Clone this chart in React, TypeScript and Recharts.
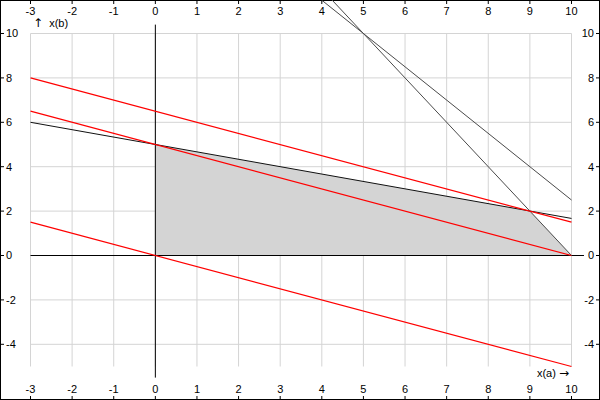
import { ComposedChart, Line, Area, XAxis, YAxis, ReferenceLine } from "recharts";

// tick labels / grid positions
const xTicks = [-3, -2, -1, 0, 1, 2, 3, 4, 5, 6, 7, 8, 9, 10];
const yTicks = [10, 8, 6, 4, 2, 0, -2, -4];
const gridBottom = -5;

// constraint lines
const redUpper = [{ x: -3, y: 8 }, { x: 10, y: 1.5 }];
const redMiddle = [{ x: -3, y: 6.5 }, { x: 10, y: 0 }];
const redLower = [{ x: -3, y: 1.5 }, { x: 10, y: -5 }];
const blackLine = [{ x: -3, y: 6 }, { x: 10, y: 1.67 }];
const grayShallow = [{ x: 3.8, y: 11.8 }, { x: 10, y: 2.5 }];
const graySteep = [{ x: 4.2, y: 11.6 }, { x: 10, y: 0 }];

// feasible region (upper edge, base at y = 0)
const feasible = [{ x: 0, y: 5 }, { x: 9, y: 2 }, { x: 10, y: 0 }];

// axis lines through the origin
const xAxisSeg = [{ x: -3, y: 0 }, { x: 10.3, y: 0 }];
const yAxisSeg = [{ x: 0, y: -5.5 }, { x: 0, y: 10.4 }];

const X_DOMAIN: [number, number] = [-3.733, 10.685];
const Y_DOMAIN: [number, number] = [-6.509, 11.509];

const RED = "#ff0000";
const GRID = "#d4d4d4";
const GRAY = "#4a4a4a";
const FAMILY = "'Liberation Sans', Arial, sans-serif";
const FONT = { fontFamily: FAMILY, fontSize: 11, fill: "#000" };

const TopTick = ({ x, payload }: any) => (
  <g>
    <line x1={x} x2={x} y1={0} y2={4} stroke="#000" />
    <text x={x} y={15} textAnchor="middle" {...FONT}>{payload.value}</text>
  </g>
);
const BottomTick = ({ x, payload }: any) => (
  <g>
    <line x1={x} x2={x} y1={396} y2={400} stroke="#000" />
    <text x={x} y={393} textAnchor="middle" {...FONT}>{payload.value}</text>
  </g>
);
const LeftTick = ({ y, payload }: any) => (
  <g>
    <line x1={0} x2={4} y1={y} y2={y} stroke="#000" />
    <text x={6} y={y} dy="0.36em" textAnchor="start" {...FONT}>{payload.value}</text>
  </g>
);
const RightTick = ({ y, payload }: any) => (
  <g>
    <line x1={596} x2={600} y1={y} y2={y} stroke="#000" />
    <text x={594} y={y} dy="0.36em" textAnchor="end" {...FONT}>{payload.value}</text>
  </g>
);

const ids = { xAxisId: "b", yAxisId: "l" };
const arrow = { fontFamily: "'DejaVu Sans', sans-serif", fontSize: 12, color: "#000" };

export default function App() {
  return (
    <div style={{ position: "absolute", left: 0, top: 0, width: 600, height: 400, background: "#fff", outline: "1px solid #000", outlineOffset: -1 }}>
      <ComposedChart width={600} height={400} margin={{ top: 0, right: 0, bottom: 0, left: 0 }}>
        <XAxis xAxisId="b" type="number" dataKey="x" domain={X_DOMAIN} allowDataOverflow ticks={xTicks}
          orientation="bottom" mirror axisLine={false} tickLine={false} tick={<BottomTick />} interval={0} />
        <XAxis xAxisId="t" type="number" dataKey="x" domain={X_DOMAIN} allowDataOverflow ticks={xTicks}
          orientation="top" mirror axisLine={false} tickLine={false} tick={<TopTick />} interval={0} />
        <YAxis yAxisId="l" type="number" domain={Y_DOMAIN} allowDataOverflow ticks={yTicks}
          orientation="left" mirror axisLine={false} tickLine={false} tick={<LeftTick />} interval={0} />
        <YAxis yAxisId="r" type="number" domain={Y_DOMAIN} allowDataOverflow ticks={yTicks}
          orientation="right" mirror axisLine={false} tickLine={false} tick={<RightTick />} interval={0} />

        {xTicks.map((v) => (
          <ReferenceLine key={"gx" + v} {...ids} zIndex={-50} ifOverflow="visible"
            segment={[{ x: v, y: gridBottom }, { x: v, y: yTicks[0] }]} stroke={GRID} strokeWidth={1} />
        ))}
        {yTicks.map((v) => (
          <ReferenceLine key={"gy" + v} {...ids} zIndex={-50} ifOverflow="visible"
            segment={[{ x: xTicks[0], y: v }, { x: xTicks[xTicks.length - 1], y: v }]} stroke={GRID} strokeWidth={1} />
        ))}

        <Area {...ids} data={feasible} dataKey="y" type="linear" baseValue={0} fill="#d4d4d4" fillOpacity={1}
          stroke="none" isAnimationActive={false} activeDot={false} />

        <ReferenceLine {...ids} zIndex={150} ifOverflow="visible" segment={xAxisSeg} stroke="#000" strokeWidth={1} />
        <ReferenceLine {...ids} zIndex={150} ifOverflow="visible" segment={yAxisSeg} stroke="#000" strokeWidth={1} />

        <Line {...ids} data={blackLine} dataKey="y" type="linear" stroke="#111" strokeWidth={1} dot={false} activeDot={false} isAnimationActive={false} />
        <Line {...ids} data={grayShallow} dataKey="y" type="linear" stroke={GRAY} strokeWidth={1} dot={false} activeDot={false} isAnimationActive={false} />
        <Line {...ids} data={graySteep} dataKey="y" type="linear" stroke={GRAY} strokeWidth={1} dot={false} activeDot={false} isAnimationActive={false} />
        <Line {...ids} data={redUpper} dataKey="y" type="linear" stroke={RED} strokeWidth={1.2} dot={false} activeDot={false} isAnimationActive={false} />
        <Line {...ids} data={redMiddle} dataKey="y" type="linear" stroke={RED} strokeWidth={1.2} dot={false} activeDot={false} isAnimationActive={false} />
        <Line {...ids} data={redLower} dataKey="y" type="linear" stroke={RED} strokeWidth={1.2} dot={false} activeDot={false} isAnimationActive={false} />
      </ComposedChart>
      <div style={{ position: "absolute", left: 33, top: 16, fontFamily: FAMILY, fontSize: 11, color: "#000", whiteSpace: "pre", lineHeight: "14px" }}>
        <span style={arrow}>↑</span>{"  x(b)"}
      </div>
      <div style={{ position: "absolute", right: 31, top: 366, fontFamily: FAMILY, fontSize: 11, color: "#000", whiteSpace: "pre", lineHeight: "14px" }}>
        {"x(a) "}<span style={arrow}>→</span>
      </div>
    </div>
  );
}
